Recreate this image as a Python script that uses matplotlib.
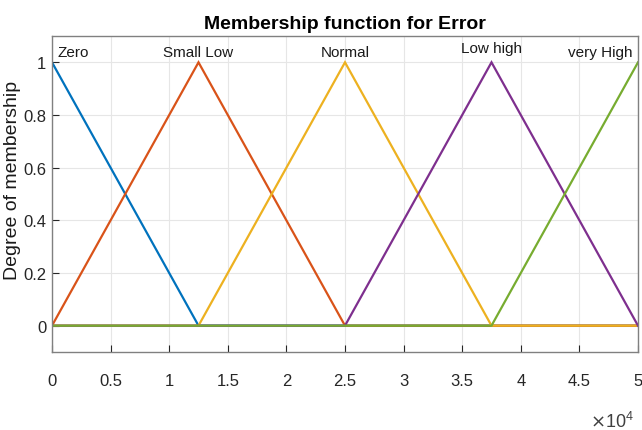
import numpy as np
import matplotlib
matplotlib.use("Agg")
import matplotlib.pyplot as plt

plt.rcParams['font.family'] = ['Liberation Sans', 'DejaVu Sans']

# membership functions: vertices (x, degree) over the universe 0..5e4
mf_names = ["Zero", "Small Low", "Normal", "Low high", "very High"]
mf_x = [
    [0, 12500, 50000],
    [0, 12500, 25000, 50000],
    [0, 12500, 25000, 37500, 50000],
    [0, 25000, 37500, 50000],
    [0, 37500, 50000],
]
mf_y = [
    [1, 0, 0],
    [0, 1, 0, 0],
    [0, 0, 1, 0, 0],
    [0, 0, 1, 0],
    [0, 0, 1],
]
mf_colors = ["#0072BD", "#D95319", "#EDB120", "#7E2F8E", "#77AC30"]
peaks = [0, 12500, 25000, 37500, 50000]

xticks = np.arange(0, 50001, 5000)
xticklabels = ["0", "0.5", "1", "1.5", "2", "2.5", "3", "3.5", "4", "4.5", "5"]
yticks = [0, 0.2, 0.4, 0.6, 0.8, 1]
yticklabels = ["0", "0.2", "0.4", "0.6", "0.8", "1"]

fig = plt.figure(figsize=(6.42, 4.31), dpi=100)
ax = fig.add_axes([52/642, 1-353/431, 586/642, 316/431])

for xs, ys, c in zip(mf_x, mf_y, mf_colors):
    ax.plot(xs, ys, color=c, lw=1.6, solid_joinstyle='miter')

ax.set_xlim(0, 50000)
ax.set_ylim(-0.1, 1.1)
ax.set_xticks(xticks)
ax.set_xticklabels(xticklabels)
ax.set_yticks(yticks)
ax.set_yticklabels(yticklabels)
ax.grid(True, color="#e6e6e6", lw=0.8)
ax.set_axisbelow(True)
ax.tick_params(direction='in', length=5, labelsize=12, colors="#262626")
ax.tick_params(axis='x', pad=15)
ax.tick_params(axis='y', pad=4)
for s in ax.spines.values():
    s.set_color("#808080")
    s.set_linewidth(1.0)

aligns = ["left", "center", "center", "center", "right"]
offs = [500, 0, 0, 0, -500]
ys_lab = [1.04, 1.04, 1.04, 1.055, 1.04]
for name, p, ha, o, yl in zip(mf_names, peaks, aligns, offs, ys_lab):
    ax.text(p + o, yl, name, ha=ha, va='center', fontsize=11, color="#1a1a1a")

ax.set_title("Membership function for Error", fontsize=14, fontweight='bold', pad=6)
fig.text(13/642, 1-180/431, "Degree of membership", rotation=90, ha='center', va='center',
         fontsize=14, color="#1a1a1a")
fig.text(634/642, 1-422/431, r"$\times\mathregular{10^4}$", ha='right', va='center',
         fontsize=13, color="#404040")

fig.savefig("out.png", dpi=100)
